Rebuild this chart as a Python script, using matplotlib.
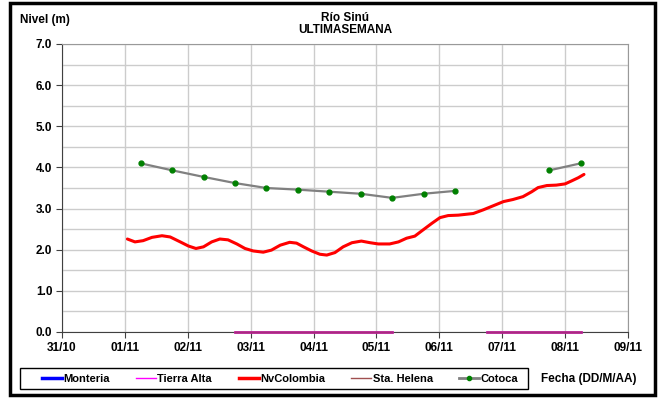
import numpy as np
import matplotlib.pyplot as plt
from matplotlib.lines import Line2D
from matplotlib.patches import Rectangle

plt.rcParams['font.family'] = ['Liberation Sans', 'DejaVu Sans']
plt.rcParams['font.weight'] = 'bold'

# days counted from 31/10 00:00
day_labels = ["31/10", "01/11", "02/11", "03/11", "04/11", "05/11", "06/11", "07/11", "08/11", "09/11"]

# NvColombia level (m)
nv_t = [1.04, 1.16, 1.29, 1.43, 1.59, 1.72, 1.88, 2.01, 2.13, 2.25, 2.38, 2.51, 2.64, 2.78,
        2.91, 3.04, 3.20, 3.33, 3.47, 3.62, 3.73, 3.84, 3.97, 4.10, 4.21, 4.34, 4.47, 4.61,
        4.76, 4.90, 5.03, 5.21, 5.35, 5.48, 5.61, 5.74, 5.88, 6.01, 6.14, 6.30, 6.54, 6.70,
        6.86, 7.02, 7.17, 7.33, 7.47, 7.57, 7.71, 7.86, 8.00, 8.10, 8.21, 8.30]
nv_h = [2.26, 2.19, 2.22, 2.30, 2.34, 2.31, 2.19, 2.09, 2.03, 2.07, 2.19, 2.26, 2.24, 2.14,
        2.03, 1.97, 1.94, 1.99, 2.11, 2.18, 2.16, 2.07, 1.97, 1.89, 1.87, 1.93, 2.07, 2.17,
        2.21, 2.17, 2.14, 2.14, 2.19, 2.28, 2.33, 2.48, 2.64, 2.78, 2.83, 2.84, 2.88, 2.97,
        3.07, 3.17, 3.22, 3.29, 3.41, 3.51, 3.56, 3.57, 3.60, 3.67, 3.75, 3.83]

# Cotoca level (m), every 12 h
cot_t = [1.25, 1.75, 2.25, 2.75, 3.25, 3.75, 4.25, 4.75, 5.25, 5.75, 6.25, 6.75, 7.25, 7.75, 8.25]
cot_h = [4.10, 3.93, 3.77, 3.62, 3.50, 3.46, 3.41, 3.36, 3.26, 3.36, 3.43, np.nan, np.nan, 3.93, 4.10]

# Tierra Alta / Sta. Helena readings
zero_t = [2.75, 3.25, 3.75, 4.25, 4.75, 5.25, 5.75, 6.25, 6.75, 7.25, 7.75, 8.25]
ta_h = [0.0, 0.0, 0.0, 0.0, 0.0, 0.0, np.nan, np.nan, 0.0, 0.0, 0.0, 0.0]
sh_h = [0.0, 0.0, 0.0, 0.0, 0.0, 0.0, np.nan, np.nan, 0.0, 0.0, 0.0, 0.0]

# Monteria has no data this week
mon_t = []
mon_h = []

fig = plt.figure(figsize=(6.61, 3.99), dpi=100)
ax = fig.add_axes([62/661, 1-332/399, 566/661, 288/399])

ax.plot(mon_t, mon_h, color='#0000ff', lw=2)
ax.plot(zero_t, ta_h, color='#ff00ff', lw=1.8, clip_on=False, zorder=4)
ax.plot(zero_t, sh_h, color='#993366', lw=1.8, alpha=0.85, clip_on=False, zorder=5)
ax.plot(nv_t, nv_h, color='#ff0000', lw=2.2, zorder=3,
        solid_joinstyle='round', solid_capstyle='round')
ax.plot(cot_t, cot_h, color='#808080', lw=1.6, marker='o', ms=3.5,
        mfc='#008000', mec='#008000', zorder=3)

ax.set_xlim(0, 9)
ax.set_ylim(0, 7)
ax.set_xticks(range(10))
ax.set_xticklabels(day_labels)
ax.set_yticks(np.arange(0, 7.5, 1.0))
ax.set_yticklabels([f"{v:.1f}" for v in np.arange(0, 7.5, 1.0)])
ax.set_yticks(np.arange(0, 7.5, 0.5), minor=True)
ax.grid(True, which='both', color='#cccccc', lw=1)
ax.set_axisbelow(True)
ax.tick_params(axis='both', which='major', labelsize=8.5, length=4, color='#404040', pad=3)
ax.tick_params(axis='y', which='minor', length=0)
for s in ['top', 'right']:
    ax.spines[s].set_color('#999999')
for s in ['left', 'bottom']:
    ax.spines[s].set_color('#404040')

# titles and axis captions
fig.text(345/661, 1-24/399, "Río Sinú\nULTIMASEMANA", ha='center', va='center',
         fontsize=8.5, linespacing=1.0)
fig.text(20/661, 1-20/399, "Nivel (m)", ha='left', va='center', fontsize=8.5)
fig.text(541/661, 1-379/399, "Fecha (DD/M/AA)", ha='left', va='center', fontsize=8.5)

handles = [
    Line2D([], [], color='#0000ff', lw=2.5),
    Line2D([], [], color='#ff00ff', lw=1),
    Line2D([], [], color='#ff0000', lw=2.5),
    Line2D([], [], color='#a05050', lw=1),
    Line2D([], [], color='#808080', lw=2, marker='o', ms=3, mfc='#008000', mec='#008000'),
]
names = ["Monteria", "Tierra Alta", "NvColombia", "Sta. Helena", "Cotoca"]
fig.legend(handles, names, ncol=5, loc='center left',
           bbox_to_anchor=(42/661, 1-379/399), fontsize=8, handlelength=1.8,
           handletextpad=0.1, columnspacing=2.4, borderaxespad=0, borderpad=0,
           frameon=False)

# legend box and outer chart frame
fig.patches.append(Rectangle((20/661, 1-389/399), 508/661, 21/399, transform=fig.transFigure,
                             fill=False, edgecolor='black', lw=1))
fig.patches.append(Rectangle((10/661, 4/399), 645/661, 392/399, transform=fig.transFigure,
                             fill=False, edgecolor='black', lw=2.5))

fig.savefig("out.png", dpi=100)
